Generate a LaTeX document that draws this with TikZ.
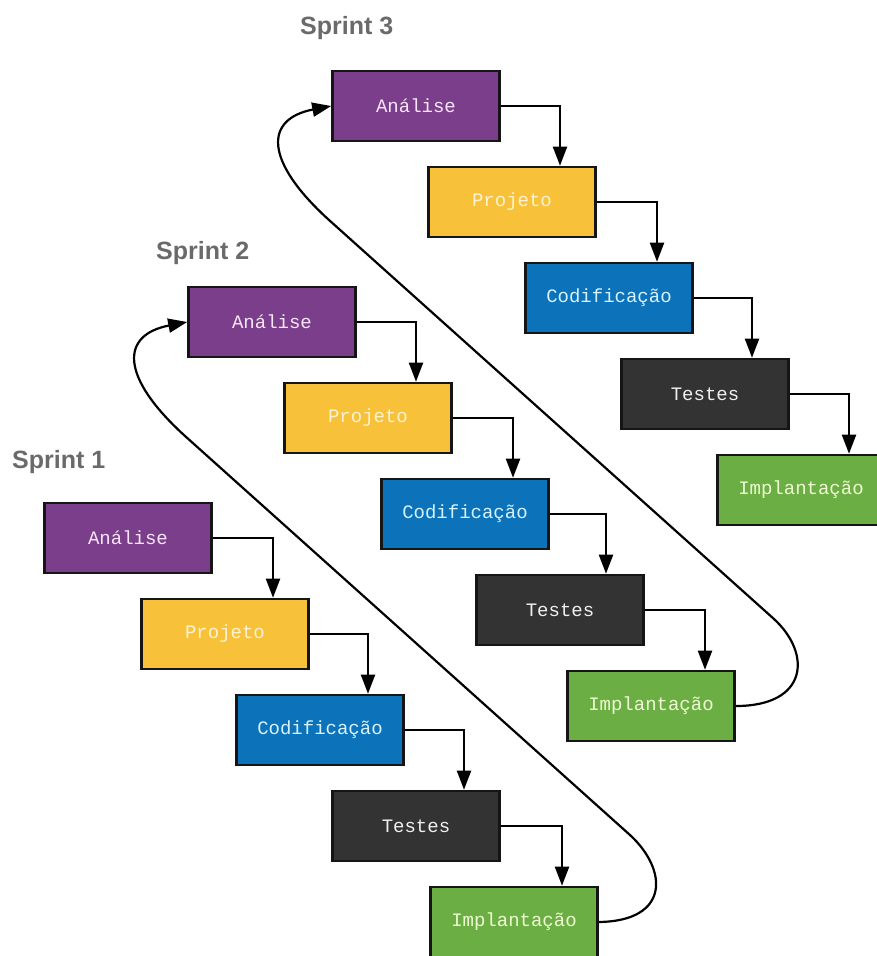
\documentclass[tikz,border=0pt]{standalone}
\usepackage{fontspec}
\usetikzlibrary{arrows.meta}
\newfontfamily\boxfont{Liberation Mono}
\newfontfamily\headfont{Liberation Sans}

\definecolor{cAnalise}{HTML}{7B3E8B}
\definecolor{cProjeto}{HTML}{F8C13A}
\definecolor{cCodif}{HTML}{0C72BA}
\definecolor{cTestes}{HTML}{333333}
\definecolor{cImpl}{HTML}{6BAE44}
\definecolor{tAnalise}{HTML}{F8E6F8}
\definecolor{tProjeto}{HTML}{FFF3D2}
\definecolor{tCodif}{HTML}{D6F2FF}
\definecolor{tTestes}{HTML}{F0F0F0}
\definecolor{tImpl}{HTML}{EEFBD2}
\definecolor{headgray}{HTML}{6A6A6A}
\definecolor{edge}{HTML}{151515}

\tikzset{
  phase/.style={draw=edge, line width=2.6pt, minimum width=167pt, minimum height=70pt,
    inner sep=0pt, font=\boxfont\fontsize{19}{21}\selectfont},
  analise/.style={phase, fill=cAnalise, text=tAnalise},
  projeto/.style={phase, fill=cProjeto, text=tProjeto},
  codif/.style={phase, fill=cCodif, text=tCodif},
  testes/.style={phase, fill=cTestes, text=tTestes},
  impl/.style={phase, fill=cImpl, text=tImpl},
  sprintlabel/.style={anchor=base west, inner sep=0pt, text=headgray,
    font=\headfont\bfseries\fontsize{25}{28}\selectfont},
  flow/.style={draw=black, line width=2.2pt, -{Triangle[length=19pt,width=14pt]}},
  cycle back/.style={flow}
}

\begin{document}
\begin{tikzpicture}[x=1pt, y=-1pt]
\useasboundingbox (0,0) rectangle (877,956);

% Sprint headings
\node[sprintlabel] (s1) at (12,468) {Sprint 1};
\node[sprintlabel] (s2) at (156,259) {Sprint 2};
\node[sprintlabel] (s3) at (300,34) {Sprint 3};

% Sprint 1
\node[analise] (an1) at (128,538) {Análise};
\node[projeto] (pr1) at (225,634) {Projeto};
\node[codif]   (co1) at (320,730) {Codificação};
\node[testes]  (te1) at (416,826) {Testes};
\node[impl]    (im1) at (514,922) {Implantação};

% Sprint 2
\node[analise] (an2) at (272,322) {Análise};
\node[projeto] (pr2) at (368,418) {Projeto};
\node[codif]   (co2) at (465,514) {Codificação};
\node[testes]  (te2) at (560,610) {Testes};
\node[impl]    (im2) at (651,706) {Implantação};

% Sprint 3
\node[analise] (an3) at (416,106) {Análise};
\node[projeto] (pr3) at (512,202) {Projeto};
\node[codif]   (co3) at (609,298) {Codificação};
\node[testes]  (te3) at (705,394) {Testes};
\node[impl]    (im3) at (801,490) {Implantação};

% Step connectors inside each sprint
\draw[flow] (an1.east) -| ([xshift=48pt]pr1.north);
\draw[flow] (pr1.east) -| ([xshift=48pt]co1.north);
\draw[flow] (co1.east) -| ([xshift=48pt]te1.north);
\draw[flow] (te1.east) -| ([xshift=48pt]im1.north);

\draw[flow] (an2.east) -| ([xshift=48pt]pr2.north);
\draw[flow] (pr2.east) -| ([xshift=48pt]co2.north);
\draw[flow] (co2.east) -| ([xshift=46pt]te2.north);
\draw[flow] (te2.east) -| ([xshift=54pt]im2.north);

\draw[flow] (an3.east) -| ([xshift=48pt]pr3.north);
\draw[flow] (pr3.east) -| ([xshift=48pt]co3.north);
\draw[flow] (co3.east) -| ([xshift=47pt]te3.north);
\draw[flow] (te3.east) -| ([xshift=48pt]im3.north);

% Loops from the end of one sprint to the start of the next
\draw[cycle back] (im1.east) .. controls (670,921) and (668,870) .. (630,835)
  -- (185,436) .. controls (120,377) and (120,335) .. (an2.west);
\draw[cycle back] (im2.east) .. controls (808,706) and (812,654) .. (774,619)
  -- (329,220) .. controls (264,161) and (264,119) .. (an3.west);
\end{tikzpicture}
\end{document}
